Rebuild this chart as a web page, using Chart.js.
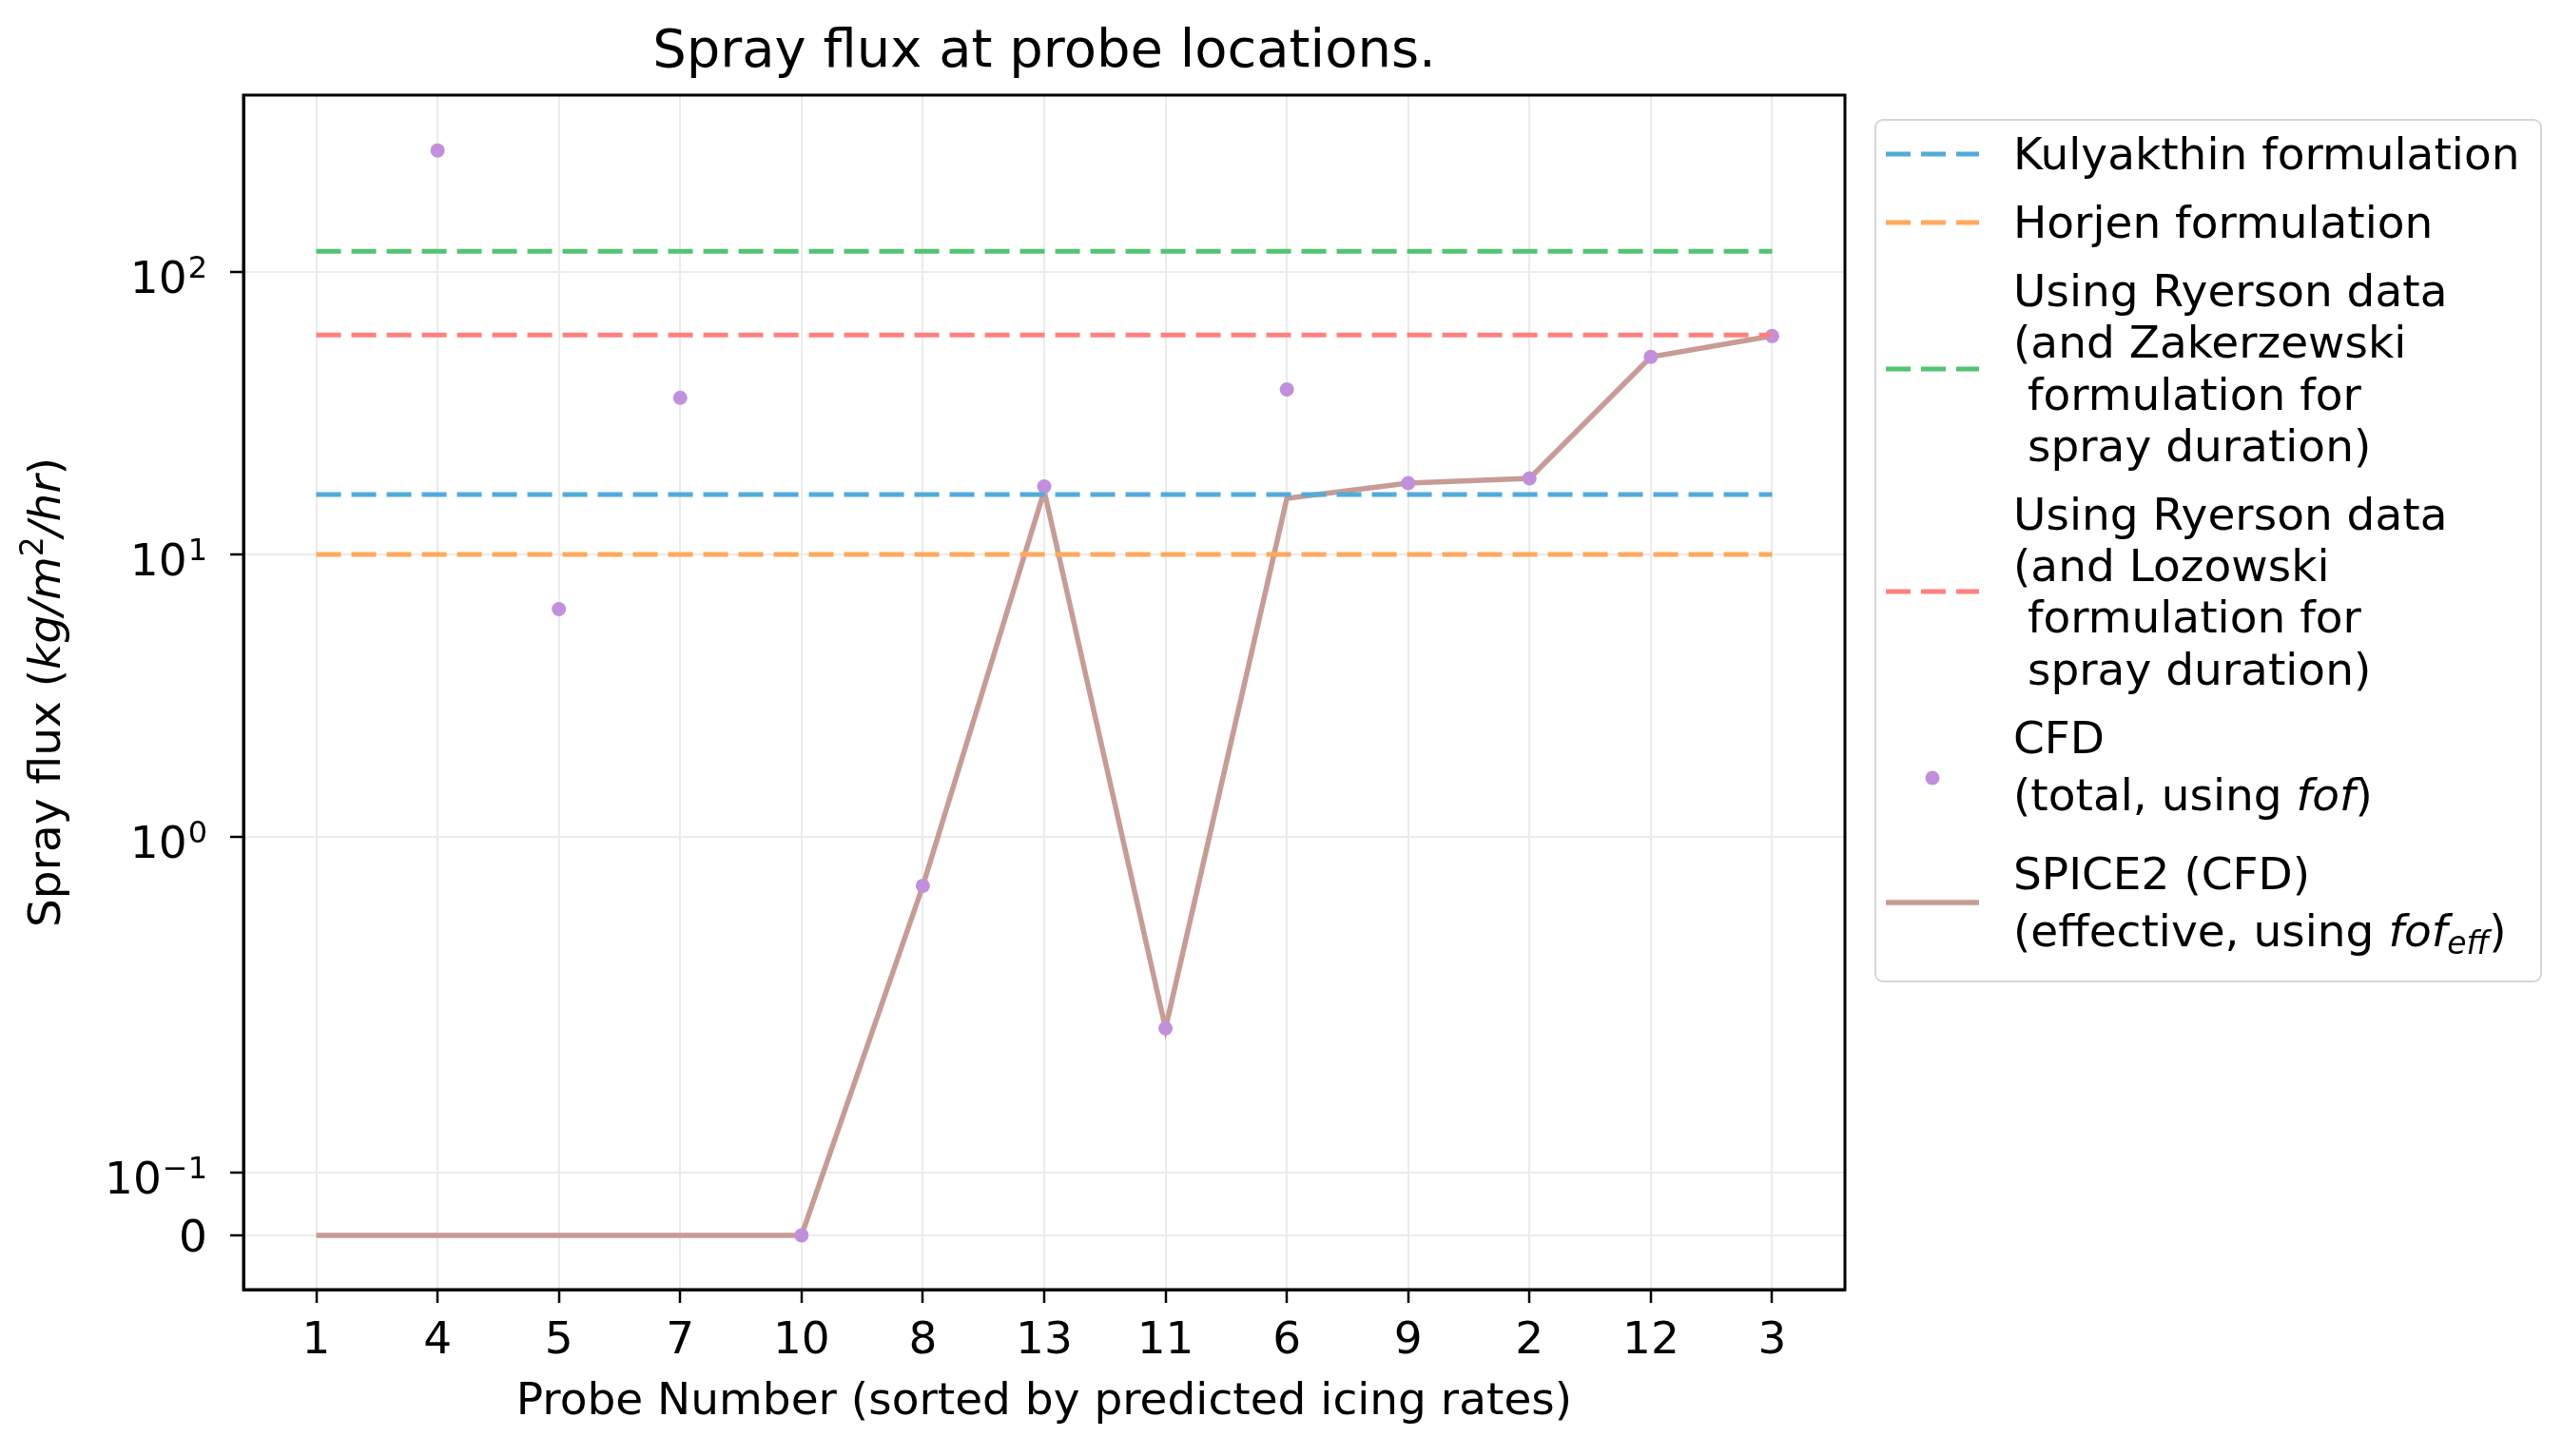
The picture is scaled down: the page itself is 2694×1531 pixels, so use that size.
<!DOCTYPE html>
<html>
<head>
<meta charset="utf-8">
<script src="https://cdn.jsdelivr.net/npm/chart.js@4.4.1/dist/chart.umd.min.js"></script>
<style>
  html, body { margin: 0; padding: 0; background: #fff; }
  #wrap { position: relative; width: 2694px; height: 1531px; }
  #chart { position: absolute; left: 0; top: 0; }
  #legend {
    position: absolute; left: 1971px; top: 125px; width: 702px; height: 908px;
    box-sizing: border-box; border: 2.5px solid #d6d6d6; border-radius: 9px;
    padding: 8px 0 0 10px; font-family: "DejaVu Sans"; font-size: 47px; color: #000;
  }
  .item { display: flex; align-items: center; margin-bottom: 17.7px; }
  .item .txt div { line-height: 54.3px; white-space: pre; }
  .item.tall .txt div { line-height: 60px; }
  .handle { width: 98px; height: 20px; margin-right: 36px; flex: none; }
  sub { font-size: 0.7em; line-height: 0; vertical-align: -0.25em; }
</style>
</head>
<body>
<div id="wrap">
  <canvas id="chart" width="2694" height="1531"></canvas>
  <div id="legend"></div>
</div>
<script>
// probe order on the x axis
const probes = ["1", "4", "5", "7", "10", "8", "13", "11", "6", "9", "2", "12", "3"];
// CFD total spray flux (kg/m2/hr), none plotted for probe 1
const cfdTotal = [null, 270, 6.4, 35.9, 0, 0.67, 17.4, 0.33, 38.4, 17.9, 18.6, 50.1, 59.4];
// SPICE2 effective spray flux
const spice2 = [0, 0, 0, 0, 0, 0.67, 16.8, 0.33, 15.8, 17.9, 18.6, 50.1, 59.4];

const refLabels = [
  ["Kulyakthin formulation"],
  ["Horjen formulation"],
  ["Using Ryerson data", "(and Zakerzewski", " formulation for", " spray duration)"],
  ["Using Ryerson data", "(and Lozowski", " formulation for", " spray duration)"]
];
const refValues = [16.3, 10.0, 118.6, 59.9];
const refColors = ["#52abd9", "#ffa95c", "#52c472", "#ff8080"];

const cfdLabel = ["CFD", "(total, using <i>fof</i>)"];
const spiceLabel = ["SPICE2 (CFD)", "(effective, using <i>fof<sub>eff</sub></i>)"];
const cfdColor = "#c190dd";
const spiceColor = "#c69c95";

// y ticks: value, mantissa text, exponent text
const yTickValues = [0, 0.1, 1, 10, 100];
const yTickBase = ["0", "10", "10", "10", "10"];
const yTickExp = ["", "\u22121", "0", "1", "2"];

const titleText = "Spray flux at probe locations.";
const xTitle = "Probe Number (sorted by predicted icing rates)";

// symlog like matplotlib: linthresh 0.5, linscale 1
const LINTHRESH = 0.5;
const LINSCALE = 1 / (1 - 0.1);
function symlog(v) {
  const a = Math.abs(v);
  const t = a <= LINTHRESH ? a / LINTHRESH * LINSCALE : LINSCALE + Math.log10(a / LINTHRESH);
  return v < 0 ? -t : t;
}
function symexp(t) {
  const a = Math.abs(t);
  const v = a <= LINSCALE ? a / LINSCALE * LINTHRESH : LINTHRESH * Math.pow(10, a - LINSCALE);
  return t < 0 ? -v : v;
}

class SymlogScale extends Chart.Scale {
  static id = "symlog";
  static defaults = {};
  determineDataLimits() {
    this.min = this.options.min;
    this.max = this.options.max;
  }
  buildTicks() {
    return yTickValues.map(v => ({ value: v }));
  }
  configure() {
    super.configure();
    this._t0 = symlog(this.min);
    this._t1 = symlog(this.max);
  }
  getPixelForValue(v) {
    return this.getPixelForDecimal((symlog(v) - this._t0) / (this._t1 - this._t0));
  }
  getValueForPixel(p) {
    return symexp(this._t0 + this.getDecimalForPixel(p) * (this._t1 - this._t0));
  }
}
Chart.register(SymlogScale);

Chart.defaults.font.family = "DejaVu Sans";
Chart.defaults.color = "#000";

const xy = arr => arr.map((v, i) => ({ x: i, y: v }));
const last = probes.length - 1;

const datasets = refValues.map((v, i) => ({
  label: refLabels[i].join(" "),
  data: [{ x: 0, y: v }, { x: last, y: v }],
  borderColor: refColors[i],
  borderWidth: 5,
  borderDash: [26, 11],
  pointRadius: 0
}));
datasets.push({
  label: cfdLabel.join(" "),
  data: xy(cfdTotal),
  showLine: false,
  pointRadius: 7.5,
  pointBorderWidth: 0,
  pointBackgroundColor: cfdColor,
  borderColor: cfdColor
});
datasets.push({
  label: spiceLabel.join(" "),
  data: xy(spice2),
  borderColor: spiceColor,
  borderWidth: 5.5,
  pointRadius: 0
});

const texts = {
  id: "texts",
  afterDraw(chart) {
    const { ctx, chartArea: a } = chart;
    const ys = chart.scales.y;
    ctx.save();
    ctx.strokeStyle = "#000";
    ctx.lineWidth = 3;
    ctx.strokeRect(a.left, a.top, a.right - a.left, a.bottom - a.top);

    ctx.fillStyle = "#000";
    ctx.font = '56px "DejaVu Sans"';
    ctx.textAlign = "center";
    ctx.textBaseline = "alphabetic";
    ctx.fillText(titleText, (a.left + a.right) / 2, 70);

    // y tick labels with real superscripts
    const right = a.left - 38;
    yTickValues.forEach((v, i) => {
      const y = ys.getPixelForValue(v);
      ctx.textAlign = "right";
      if (!yTickExp[i]) {
        ctx.font = '47px "DejaVu Sans"';
        ctx.fillText(yTickBase[i], right, y + 17);
        return;
      }
      ctx.font = '32px "DejaVu Sans"';
      const ew = ctx.measureText(yTickExp[i]).width;
      ctx.fillText(yTickExp[i], right, y + 22 - 16);
      ctx.font = '47px "DejaVu Sans"';
      ctx.fillText(yTickBase[i], right - ew - 1, y + 22);
    });

    // y label with math parts
    const parts = [
      { t: "Spray flux (", f: '47px "DejaVu Sans"', dy: 0 },
      { t: "kg/m", f: 'italic 47px "DejaVu Sans"', dy: 0 },
      { t: "2", f: '33px "DejaVu Sans"', dy: -18 },
      { t: "/hr", f: 'italic 47px "DejaVu Sans"', dy: 0 },
      { t: ")", f: '47px "DejaVu Sans"', dy: 0 }
    ];
    let w = 0;
    parts.forEach(p => { ctx.font = p.f; p.w = ctx.measureText(p.t).width; w += p.w; });
    ctx.translate(50, (a.top + a.bottom) / 2);
    ctx.rotate(-Math.PI / 2);
    ctx.textAlign = "left";
    let x = -w / 2;
    parts.forEach(p => {
      ctx.font = p.f;
      ctx.fillText(p.t, x, 13 + p.dy);
      x += p.w;
    });
    ctx.restore();
  }
};

new Chart(document.getElementById("chart"), {
  type: "line",
  data: { datasets },
  options: {
    responsive: false,
    animation: false,
    events: [],
    layout: { padding: { left: 0, right: 754, top: 100, bottom: 0 } },
    plugins: { legend: { display: false }, tooltip: { enabled: false } },
    scales: {
      x: {
        type: "linear",
        min: -0.6,
        max: 12.6,
        bounds: "data",
        afterBuildTicks: s => { s.ticks = probes.map((p, i) => ({ value: i })); },
        afterFit: s => { s.height = 175; },
        ticks: {
          autoSkip: false, maxRotation: 0, padding: 13,
          font: { size: 47 },
          callback: v => probes[v]
        },
        grid: { color: "#ebebeb", lineWidth: 2, tickColor: "#000", tickWidth: 2.5, tickLength: 14 },
        border: { color: "#000", width: 3 },
        title: { display: true, text: xTitle, font: { size: 47 }, padding: { top: 0, bottom: 28 } }
      },
      y: {
        type: "symlog",
        min: -0.0866,
        max: 424,
        afterFit: s => { s.width = 256; },
        ticks: { display: false },
        grid: { color: "#ebebeb", lineWidth: 2, tickColor: "#000", tickWidth: 2.5, tickLength: 14 },
        border: { color: "#000", width: 3 }
      }
    }
  },
  plugins: [texts]
});

// legend
function handleSvg(kind, color) {
  if (kind === "dash") {
    return `<svg class="handle" viewBox="0 0 98 20"><line x1="0" y1="10" x2="98" y2="10" stroke="${color}" stroke-width="5" stroke-dasharray="26 11"/></svg>`;
  }
  if (kind === "dot") {
    return `<svg class="handle" viewBox="0 0 98 20" style="margin-top:24px"><circle cx="49" cy="10" r="7.5" fill="${color}"/></svg>`;
  }
  return `<svg class="handle" viewBox="0 0 98 20"><line x1="0" y1="10" x2="98" y2="10" stroke="${color}" stroke-width="5.5"/></svg>`;
}
const legendEl = document.getElementById("legend");
const entries = refLabels.map((lines, i) => ({ lines, kind: "dash", color: refColors[i] }));
entries.push({ lines: cfdLabel, kind: "dot", color: cfdColor, tall: true });
entries.push({ lines: spiceLabel, kind: "line", color: spiceColor, tall: true });
entries.forEach((e, i) => {
  const item = document.createElement("div");
  item.className = "item" + (e.tall ? " tall" : "");
  if (i === 3) item.style.marginBottom = "14.9px";
  if (i === 4) item.style.marginBottom = "23px";
  item.innerHTML = handleSvg(e.kind, e.color) +
    '<div class="txt">' + e.lines.map(l => "<div>" + l + "</div>").join("") + "</div>";
  legendEl.appendChild(item);
});
</script>
</body>
</html>
